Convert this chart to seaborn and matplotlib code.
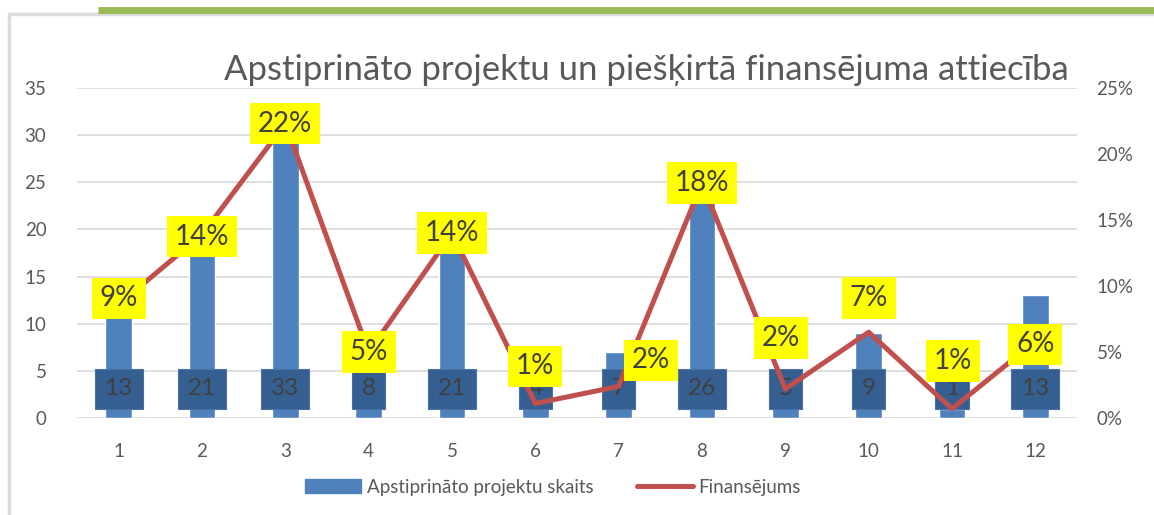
import matplotlib.pyplot as plt
import matplotlib.patches as mpatches
from matplotlib.lines import Line2D
from matplotlib.ticker import PercentFormatter
import numpy as np
import pandas as pd
import seaborn as sns

# data
categories = [str(i) for i in range(1, 13)]
projects = [13, 21, 33, 8, 21, 4, 7, 26, 5, 9, 1, 13]
funding = [0.086, 0.139, 0.223, 0.050, 0.140, 0.011, 0.024, 0.178, 0.022, 0.065, 0.007, 0.058]
funding_labels = ["9%", "14%", "22%", "5%", "14%", "1%", "2%", "18%", "2%", "7%", "1%", "6%"]

title = "Apstiprināto projektu un piešķirtā finansējuma attiecība"
bar_name = "Apstiprināto projektu skaits"
line_name = "Finansējums"

# label shifts in pixels (dx, dy), matching the hand-placed labels of the original
label_shift = [(0, 6), (0, -2), (0, 0), (0, 0), (0, 0), (0, 37), (32, 26), (0, 0),
               (-4, 51), (0, 34), (1, 48), (0, -3)]

BLUE = "#4F81BD"
DARK = "#365F91"
RED = "#C0504D"
GRID = "#D9D9D9"
TEXT = "#595959"

sns.set_style("white")
plt.rcParams["font.family"] = ["Lato", "DejaVu Sans"]

df = pd.DataFrame({"cat": categories, "projects": projects, "funding": funding})

fig = plt.figure(figsize=(11.54, 5.15), dpi=100)
ax = fig.add_axes([77 / 1154, 1 - 418 / 515, 1000 / 1154, 330 / 515])

sns.barplot(data=df, x="cat", y="projects", color=BLUE, width=0.32,
            saturation=1, ax=ax, zorder=2)
ax.set_ylim(0, 35)
ax.set_yticks(range(0, 36, 5))
ax.set_xlim(-0.5, 11.5)
ax.grid(axis="y", color=GRID, lw=1.2, zorder=0)
ax.set_axisbelow(True)
for s in ax.spines.values():
    s.set_visible(False)
ax.set_xlabel("")
ax.set_ylabel("")
ax.tick_params(axis="both", length=0, labelsize=13.5, colors=TEXT)
ax.tick_params(axis="y", pad=22)
ax.tick_params(axis="x", pad=18)

# bar value labels in dark boxes near the base
for i, v in enumerate(df["projects"]):
    ax.text(i, 3.1, str(v), ha="center", va="center", fontsize=17.5, color="#404040",
            zorder=5, bbox=dict(boxstyle="square,pad=0.4", fc=DARK, ec="#4A72A6", lw=0.8))

ax2 = ax.twinx()
ax2.set_position(ax.get_position())
sns.lineplot(x=np.arange(len(categories)), y=df["funding"], color=RED, lw=3.6,
             ax=ax2, zorder=3)
ax2.set_ylim(0, 0.25)
ax2.set_yticks(np.arange(0, 0.26, 0.05))
ax2.yaxis.set_major_formatter(PercentFormatter(1.0, decimals=0))
ax2.tick_params(axis="y", length=0, labelsize=13.5, colors=TEXT, pad=14)
ax2.set_ylabel("")
for s in ax2.spines.values():
    s.set_visible(False)
ax2.grid(False)

for i, (v, lab) in enumerate(zip(df["funding"], funding_labels)):
    dx, dy = label_shift[i]
    ax2.annotate(lab, (i, v), xytext=(dx, dy), textcoords="offset pixels",
                 ha="center", va="center", fontsize=20, color="#404040", zorder=6,
                 bbox=dict(boxstyle="square,pad=0.28", fc="#FFFF00", ec="none"))

fig.text(646 / 1154, 1 - 70 / 515, title, ha="center", va="center",
         fontsize=25, color=TEXT)

handles = [mpatches.Patch(color=BLUE, label=bar_name),
           Line2D([0], [0], color=RED, lw=3.6, label=line_name)]
fig.legend(handles=handles, loc="center", bbox_to_anchor=(553 / 1154, 1 - 487 / 515),
           ncol=2, frameon=False, fontsize=13.5, labelcolor=TEXT, handlelength=3.0,
           handletextpad=0.3, columnspacing=2.3)

# chart frame and the green rule on top
fig.add_artist(mpatches.Rectangle((9 / 1154, -0.1), 1.2, 1 - 14 / 515 + 0.1,
                                  transform=fig.transFigure, fill=False,
                                  ec="#DCDCDC", lw=2.5))
fig.add_artist(Line2D([98 / 1154, 1.0], [1 - 9.5 / 515] * 2, transform=fig.transFigure,
                      color="#9BBB59", lw=5, solid_capstyle="butt"))

fig.savefig("out.png", dpi=100)
